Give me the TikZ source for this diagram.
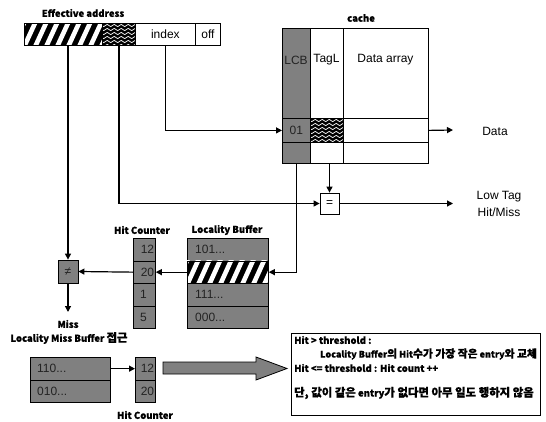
\documentclass[tikz,border=0pt]{standalone}
\usepackage{fontspec}
\setmainfont{Liberation Sans}
\newfontfamily\kr{Noto Sans CJK KR}[BoldFeatures={FakeBold=0.6}]
\newfontfamily\krk{Noto Sans CJK KR}[Scale=1.2, BoldFeatures={FakeBold=0.6}]
\newcommand{\hg}[1]{{\krk #1}}
\usetikzlibrary{arrows.meta,decorations.pathmorphing,calc}
\definecolor{cellgray}{RGB}{128,128,128}
\definecolor{celltext}{RGB}{35,35,35}
\newcommand{\hatchrect}[4]{%
  \begin{scope}
    \clip (#1,#2) rectangle (#3,#4);
    \fill[black] (#1,#2) rectangle (#3,#4);
    \foreach \i in {-22,-11,...,110}
      \draw[white, line width=4.6pt] ({#1+\i},{#4+2}) -- ({#1+\i+12},{#2-2});
  \end{scope}}
\newcommand{\wavyrect}[4]{%
  \begin{scope}
    \clip (#1,#2) rectangle (#3,#4);
    \fill[black] (#1,#2) rectangle (#3,#4);
    \foreach \j in {2.5,6.5,...,24}
      \draw[white, line width=0.7pt, decorate,
            decoration={snake, segment length=7pt, amplitude=1.1pt}]
            ({#1-4},{#2+\j}) -- ({#3+4},{#2+\j});
  \end{scope}}
\begin{document}
\begin{tikzpicture}[x=1pt,y=-1pt,
  box/.style={draw=black, line width=0.8pt, inner sep=0pt, anchor=north west},
  gbox/.style={box, fill=cellgray, text=celltext},
  lbl/.style={font=\fontsize{12}{14}\selectfont, inner sep=0pt},
  blbl/.style={font=\kr\bfseries\fontsize{9.5}{11}\selectfont, inner sep=0pt},
  conn/.style={black, line width=1.2pt},
  arr/.style={conn, -{Triangle[length=6pt,width=6pt]}},
  ]
\fill[white] (0,0) rectangle (546,422);
\useasboundingbox (0,0) rectangle (546,422);

% ---------------- effective address
\node[blbl] (ealbl) at (83,13) {Effective address};
\hatchrect{24}{23}{102}{45}
\node[box, minimum width=78pt, minimum height=22pt] (tagH) at (24,23) {};
\wavyrect{102}{23}{135}{45}
\node[box, minimum width=33pt, minimum height=22pt] (tagLo) at (102,23) {};
\node[box, minimum width=60pt, minimum height=22pt, lbl] (idx) at (135,23) {index};
\node[box, minimum width=25pt, minimum height=22pt, lbl] (off) at (195,23) {off};

% ---------------- cache
\node[blbl] (cachelbl) at (361,18) {cache};
\node[gbox, minimum width=28pt, minimum height=135pt] (lcb) at (282,28) {};
\node[box, minimum width=33pt, minimum height=135pt] (tagl) at (310,28) {};
\node[box, minimum width=85pt, minimum height=135pt] (data) at (343,28) {};
\node[lbl, text=celltext] (lcbt) at (296,60) {LCB};
\node[lbl] (taglt) at (326.5,60) {TagL};
\node[lbl] (datat) at (385.5,60) {Data array};
\node[gbox, minimum width=28pt, minimum height=24pt, lbl] (r01) at (282,118) {01};
\wavyrect{310}{118}{343}{142}
\node[box, minimum width=33pt, minimum height=24pt] (r01t) at (310,118) {};
\node[box, minimum width=85pt, minimum height=24pt] (r01d) at (343,118) {};
\coordinate (dataend) at (453,130);
\node[lbl] (datalbl) at (495,131) {Data};

% ---------------- comparator
\node[box, anchor=center, minimum width=19pt, minimum height=21pt, lbl] (eq) at (329.5,203.5) {=};
\coordinate (lowend) at (453,203.5);
\node[lbl, align=center] (lowlbl) at (499,204) {Low Tag\\[3pt]Hit/Miss};

% ---------------- hit counter / locality buffer
\node[blbl] (hclbl) at (142,230) {Hit Counter};
\node[blbl] (lblbl) at (227,230) {Locality Buffer};
\node[gbox, minimum width=22pt, minimum height=22.5pt] (hc1) at (133,238) {};
\node[gbox, minimum width=22pt, minimum height=22.5pt] (hc2) at (133,260.5) {};
\node[gbox, minimum width=22pt, minimum height=22.5pt] (hc3) at (133,283) {};
\node[gbox, minimum width=22pt, minimum height=22.5pt] (hc4) at (133,305.5) {};
\node[lbl, text=celltext, anchor=east] at ($(hc1.east)+(-1.5,0)$) {12};
\node[lbl, text=celltext, anchor=east] at ($(hc2.east)+(-1.5,0)$) {20};
\node[lbl, text=celltext, anchor=west] at ($(hc3.west)+(7,0)$) {1};
\node[lbl, text=celltext, anchor=west] at ($(hc4.west)+(7,0)$) {5};

\node[gbox, minimum width=81pt, minimum height=22.5pt] (lb1) at (187,238) {};
\hatchrect{187}{260.5}{268}{283}
\node[box, minimum width=81pt, minimum height=22.5pt] (lb2) at (187,260.5) {};
\node[gbox, minimum width=81pt, minimum height=22.5pt] (lb3) at (187,283) {};
\node[gbox, minimum width=81pt, minimum height=22.5pt] (lb4) at (187,305.5) {};
\node[lbl, text=celltext, anchor=west] at ($(lb1.west)+(8,0)$) {101...};
\node[lbl, text=celltext, anchor=west] at ($(lb3.west)+(8,0)$) {111...};
\node[lbl, text=celltext, anchor=west] at ($(lb4.west)+(8,0)$) {000...};

\node[gbox, anchor=center, minimum width=20pt, minimum height=23pt, lbl] (ne) at (68,271.5) {≠};
\coordinate (missend) at (68,312);
\node[blbl] (misslbl) at (68,324) {Miss};
\node[blbl] (lmblbl) at (69,338) {Locality Miss Buffer \hg{접근}};

% ---------------- locality miss buffer
\node[gbox, minimum width=80pt, minimum height=22.5pt] (m1) at (30,357) {};
\node[gbox, minimum width=80pt, minimum height=22.5pt] (m2) at (30,379.5) {};
\node[lbl, text=celltext, anchor=west] at ($(m1.west)+(7,0)$) {110...};
\node[lbl, text=celltext, anchor=west] at ($(m2.west)+(7,0)$) {010...};
\node[gbox, minimum width=20pt, minimum height=22.5pt] (h1) at (135,357) {};
\node[gbox, minimum width=20pt, minimum height=22.5pt] (h2) at (135,379.5) {};
\node[lbl, text=celltext, anchor=east] at ($(h1.east)+(-1.5,0)$) {12};
\node[lbl, text=celltext, anchor=east] at ($(h2.east)+(-1.5,0)$) {20};
\node[blbl] (hc2lbl) at (145,415) {Hit Counter};

% big arrow
\draw[fill=cellgray, line width=0.8pt, line join=miter]
  (163,362) -- (256,362) -- (256,357) -- (287,368.5) -- (256,380) -- (256,374) -- (163,374) -- cycle;

% text box
\node[box, minimum width=249pt, minimum height=82pt] (tb) at (291,333) {};
\node[blbl, anchor=west] (t1) at (294,340) {Hit > threshold :};
\node[blbl, anchor=west, font=\kr\bfseries\fontsize{9}{11}\selectfont] (t2) at (320,354) {Locality Buffer\hg{의} Hit\hg{수가 가장 작은} entry\hg{와 교체}};
\node[blbl, anchor=west] (t3) at (294,368) {Hit <= threshold : Hit count ++};
\node[blbl, anchor=west] (t4) at (294,393) {\hg{단, 값이 같은} entry\hg{가 없다면 아무 일도 행하지 않음}};

% ---------------- connectors
\draw[arr] (ne.north |- tagH.south) -- (ne.north);
\draw[arr] (tagLo.south) |- (eq.west);
\draw[arr] (idx.south) |- (r01.west);
\draw[arr] (r01d.east) -- (dataend);
\draw[arr] (eq.north |- tagl.south) -- (eq.north);
\draw[arr] (eq.east) -- (lowend);
\draw[arr] (lcb.south) |- (lb2.east);
\draw[arr] (lb2.west) -- (hc2.east);
\draw[arr] (hc2.west) -- (ne.east);
\draw[arr] (ne.south) -- (missend);
\draw[arr] (m1.east) -- (h1.west);
\end{tikzpicture}
\end{document}
